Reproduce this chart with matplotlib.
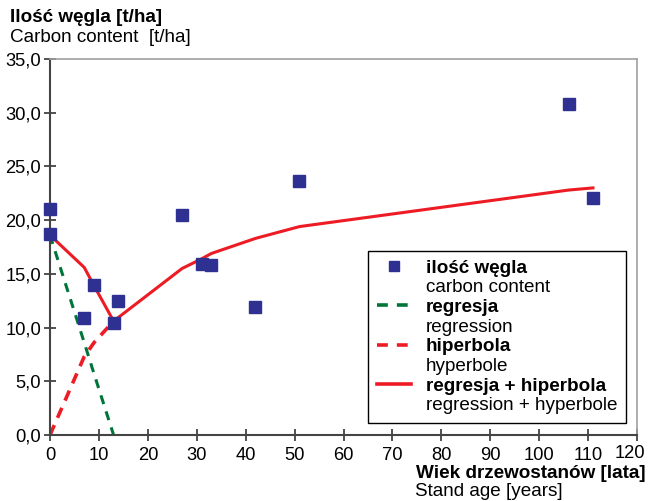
import matplotlib.pyplot as plt
import matplotlib.transforms as mtransforms
from matplotlib.lines import Line2D
from matplotlib.ticker import FuncFormatter

plt.rcParams['font.family'] = ['Liberation Sans', 'DejaVu Sans']

# measured stands
age = [0, 0, 7, 9, 13, 14, 27, 31, 33, 42, 51, 106, 111]
carbon = [21.0, 18.7, 10.9, 14.0, 10.4, 12.5, 20.5, 15.9, 15.8, 11.9, 23.6, 30.8, 22.1]

# regression part (falling)
reg_x = [0, 7, 9, 13]
reg_y = [18.6, 8.6, 5.7, 0.0]

# hyperbola part (rising)
hyp_x = [0, 7, 9, 13]
hyp_y = [0.0, 7.3, 8.6, 10.6]

# regression + hyperbola
sum_x = [0, 7, 9, 13, 27, 31, 33, 42, 51, 106, 111]
sum_y = [18.6, 15.6, 13.9, 10.6, 15.5, 16.4, 16.9, 18.3, 19.4, 22.8, 23.0]

navy = '#2e3192'
red = '#ed1c24'
green = '#00753a'

fig = plt.figure(figsize=(6.48, 5.01), dpi=100)
ax = fig.add_axes([50/648, 1 - 435/501, 587/648, 376/501])

ax.plot(reg_x, reg_y, color=green, lw=2.2, dashes=(3, 2.5))
ax.plot(hyp_x, hyp_y, color=red, lw=2.6, dashes=(3, 2.2))
ax.plot(sum_x, sum_y, color=red, lw=2.2)
ax.plot(age, carbon, 's', color=navy, ms=8.5, clip_on=False, zorder=5)

ax.set_xlim(0, 120)
ax.set_ylim(0, 35)
ax.set_xticks(range(0, 121, 10))
ax.set_yticks(range(0, 36, 5))
ax.yaxis.set_major_formatter(FuncFormatter(lambda v, p: f'{v:.1f}'.replace('.', ',')))
ax.tick_params(direction='inout', length=9, width=1.2, color='#333333', labelsize=13.2)
ax.tick_params(axis='x', pad=4)
ax.tick_params(axis='y', pad=2)
for s in ['left', 'bottom']:
    ax.spines[s].set_color('#444444')
    ax.spines[s].set_linewidth(1.5)
for s in ['top', 'right']:
    ax.spines[s].set_color('#a0a0a0')
    ax.spines[s].set_linewidth(1.2)

# keep the last x label inside the figure
last = ax.get_xticklabels()[-1]
last.set_transform(last.get_transform() + mtransforms.ScaledTranslation(-7/100, 2/100, fig.dpi_scale_trans))

blank = Line2D([], [], linestyle='none')
handles = [
    Line2D([], [], marker='s', color=navy, ms=7.5, linestyle='none'), blank,
    Line2D([], [], color=green, lw=2.6, dashes=(3, 2.5)), blank,
    Line2D([], [], color=red, lw=2.6, dashes=(3, 2.5)), blank,
    Line2D([], [], color=red, lw=2.6), blank,
]
labels = ['ilość węgla', 'carbon content', 'regresja', 'regression',
          'hiperbola', 'hyperbole', 'regresja + hiperbola', 'regression + hyperbole']
leg = ax.legend(handles, labels, loc='lower right', bbox_to_anchor=(0.981, 0.032),
                borderaxespad=0, fontsize=13.6, frameon=True, fancybox=False,
                edgecolor='black', framealpha=1, handlelength=1.8,
                handletextpad=0.8, labelspacing=0.13, borderpad=0.45)
leg.get_frame().set_linewidth(1.0)
for i, t in enumerate(leg.get_texts()):
    if i % 2 == 0:
        t.set_fontweight('bold')

fig.text(10/648, 1 - 18/501, 'Ilość węgla [t/ha]', fontsize=13.6, fontweight='bold', va='center')
fig.text(10/648, 1 - 38/501, 'Carbon content  [t/ha]', fontsize=13.6, va='center')
fig.text(645/648, 1 - 474/501, 'Wiek drzewostanów [lata]', fontsize=13.6, fontweight='bold',
         va='center', ha='right')
fig.text(415/648, 1 - 492/501, 'Stand age [years]', fontsize=13.6, va='center')

fig.savefig('out.png', dpi=100)
